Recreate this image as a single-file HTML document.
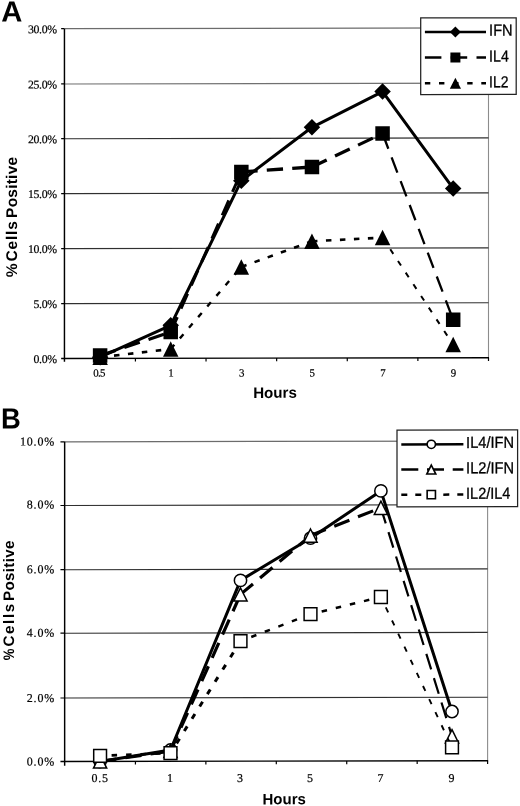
<!DOCTYPE html>
<html lang="en"><head><meta charset="utf-8"><title>Figure</title>
<style>html,body{margin:0;padding:0;background:#fff}svg{display:block}</style></head><body>
<svg width="520" height="806" viewBox="0 0 520 806">
<rect width="520" height="806" fill="#fff"/>
<g transform="matrix(1 -0.0018 0 1 0 0.47)">
<text x="1.2" y="21.05" font-family='"Liberation Sans", Arial, Helvetica, sans-serif' font-weight="bold" font-size="29.2" fill="#000">A</text>
<text x="1.0" y="428.15" font-family='"Liberation Sans", Arial, Helvetica, sans-serif' font-weight="bold" font-size="29.2" fill="#000" textLength="19.8" lengthAdjust="spacingAndGlyphs">B</text>
<line x1="64.45" y1="28.35" x2="488.5" y2="28.35" stroke="#6c6c6c" stroke-width="1.2"/>
<line x1="488.5" y1="28.35" x2="488.5" y2="358.15" stroke="#8c8c8c" stroke-width="1.1"/>
<line x1="64.45" y1="303.2" x2="488.5" y2="303.2" stroke="#303030" stroke-width="1.15"/>
<line x1="64.45" y1="248.25" x2="488.5" y2="248.25" stroke="#303030" stroke-width="1.15"/>
<line x1="64.45" y1="193.25" x2="488.5" y2="193.25" stroke="#303030" stroke-width="1.15"/>
<line x1="64.45" y1="138.35" x2="488.5" y2="138.35" stroke="#303030" stroke-width="1.15"/>
<line x1="64.45" y1="83.6" x2="488.5" y2="83.6" stroke="#707070" stroke-width="1.15"/>
<line x1="64.45" y1="28.35" x2="64.45" y2="361.45" stroke="#000" stroke-width="1.45"/>
<line x1="61.15" y1="358.15" x2="489" y2="358.15" stroke="#000" stroke-width="1.3"/>
<text x="56.7" y="362.61" text-anchor="end" font-family='"Liberation Serif", "Times New Roman", Times, serif' font-size="11.8" letter-spacing="-0.35" fill="#000" stroke="#000" stroke-width="0.2">0.0%</text>
<line x1="61.15" y1="303.2" x2="64.45" y2="303.2" stroke="#000" stroke-width="1.2"/>
<text x="56.7" y="307.66" text-anchor="end" font-family='"Liberation Serif", "Times New Roman", Times, serif' font-size="11.8" letter-spacing="-0.35" fill="#000" stroke="#000" stroke-width="0.2">5.0%</text>
<line x1="61.15" y1="248.25" x2="64.45" y2="248.25" stroke="#000" stroke-width="1.2"/>
<text x="56.7" y="252.71" text-anchor="end" font-family='"Liberation Serif", "Times New Roman", Times, serif' font-size="11.8" letter-spacing="-0.35" fill="#000" stroke="#000" stroke-width="0.2">10.0%</text>
<line x1="61.15" y1="193.25" x2="64.45" y2="193.25" stroke="#000" stroke-width="1.2"/>
<text x="56.7" y="197.71" text-anchor="end" font-family='"Liberation Serif", "Times New Roman", Times, serif' font-size="11.8" letter-spacing="-0.35" fill="#000" stroke="#000" stroke-width="0.2">15.0%</text>
<line x1="61.15" y1="138.35" x2="64.45" y2="138.35" stroke="#000" stroke-width="1.2"/>
<text x="56.7" y="142.81" text-anchor="end" font-family='"Liberation Serif", "Times New Roman", Times, serif' font-size="11.8" letter-spacing="-0.35" fill="#000" stroke="#000" stroke-width="0.2">20.0%</text>
<line x1="61.15" y1="83.6" x2="64.45" y2="83.6" stroke="#000" stroke-width="1.2"/>
<text x="56.7" y="88.06" text-anchor="end" font-family='"Liberation Serif", "Times New Roman", Times, serif' font-size="11.8" letter-spacing="-0.35" fill="#000" stroke="#000" stroke-width="0.2">25.0%</text>
<line x1="61.15" y1="28.35" x2="64.45" y2="28.35" stroke="#000" stroke-width="1.2"/>
<text x="56.7" y="32.81" text-anchor="end" font-family='"Liberation Serif", "Times New Roman", Times, serif' font-size="11.8" letter-spacing="-0.35" fill="#000" stroke="#000" stroke-width="0.2">30.0%</text>
<line x1="135.42" y1="358.15" x2="135.42" y2="361.35" stroke="#000" stroke-width="1.2"/>
<line x1="206.03" y1="358.15" x2="206.03" y2="361.35" stroke="#000" stroke-width="1.2"/>
<line x1="276.65" y1="358.15" x2="276.65" y2="361.35" stroke="#000" stroke-width="1.2"/>
<line x1="347.27" y1="358.15" x2="347.27" y2="361.35" stroke="#000" stroke-width="1.2"/>
<line x1="417.88" y1="358.15" x2="417.88" y2="361.35" stroke="#000" stroke-width="1.2"/>
<line x1="488.5" y1="358.15" x2="488.5" y2="361.35" stroke="#000" stroke-width="1.2"/>
<text x="98.91" y="376.21" text-anchor="middle" font-family='"Liberation Serif", "Times New Roman", Times, serif' font-size="10.9" letter-spacing="-0.7" fill="#000" stroke="#000" stroke-width="0.2">0.5</text>
<text x="170.72" y="376.34" text-anchor="middle" font-family='"Liberation Serif", "Times New Roman", Times, serif' font-size="10.9" letter-spacing="-0.7" fill="#000" stroke="#000" stroke-width="0.2">1</text>
<text x="241.34" y="376.47" text-anchor="middle" font-family='"Liberation Serif", "Times New Roman", Times, serif' font-size="10.9" letter-spacing="-0.7" fill="#000" stroke="#000" stroke-width="0.2">3</text>
<text x="311.96" y="376.59" text-anchor="middle" font-family='"Liberation Serif", "Times New Roman", Times, serif' font-size="10.9" letter-spacing="-0.7" fill="#000" stroke="#000" stroke-width="0.2">5</text>
<text x="382.57" y="376.72" text-anchor="middle" font-family='"Liberation Serif", "Times New Roman", Times, serif' font-size="10.9" letter-spacing="-0.7" fill="#000" stroke="#000" stroke-width="0.2">7</text>
<text x="453.19" y="376.85" text-anchor="middle" font-family='"Liberation Serif", "Times New Roman", Times, serif' font-size="10.9" letter-spacing="-0.7" fill="#000" stroke="#000" stroke-width="0.2">9</text>
<path d="M100.11 356.91 L170.72 325.14 L241.34 180.67 L311.96 127.39 L382.57 91.82 L453.19 188.75" fill="none" stroke="#000" stroke-width="3" stroke-linejoin="round"/>
<path d="M100.11 348.66 L108.36 356.91 L100.11 365.16 L91.86 356.91Z" fill="#000"/>
<path d="M170.72 316.89 L178.97 325.14 L170.72 333.39 L162.47 325.14Z" fill="#000"/>
<path d="M241.34 172.42 L249.59 180.67 L241.34 188.92 L233.09 180.67Z" fill="#000"/>
<path d="M311.96 119.14 L320.21 127.39 L311.96 135.64 L303.71 127.39Z" fill="#000"/>
<path d="M382.57 83.57 L390.82 91.82 L382.57 100.07 L374.32 91.82Z" fill="#000"/>
<path d="M453.19 180.5 L461.44 188.75 L453.19 197 L444.94 188.75Z" fill="#000"/>
<line x1="100.11" y1="355.31" x2="170.72" y2="331.84" stroke="#000" stroke-width="3.2" stroke-dasharray="16.3 9.2" stroke-dashoffset="0"/>
<line x1="170.72" y1="331.84" x2="241.34" y2="171.87" stroke="#000" stroke-width="3" stroke-dasharray="16.3 9.2" stroke-dashoffset="0"/>
<line x1="241.34" y1="171.87" x2="311.96" y2="167.09" stroke="#000" stroke-width="3.3" stroke-dasharray="16.3 9.2" stroke-dashoffset="0"/>
<line x1="311.96" y1="167.09" x2="382.57" y2="133.72" stroke="#000" stroke-width="3.3" stroke-dasharray="16.3 9.2" stroke-dashoffset="0"/>
<line x1="382.57" y1="133.72" x2="453.19" y2="320.15" stroke="#000" stroke-width="2.3" stroke-dasharray="16.3 9.2" stroke-dashoffset="0"/>
<rect x="92.86" y="348.06" width="14.5" height="14.5" fill="#000"/>
<rect x="163.47" y="324.59" width="14.5" height="14.5" fill="#000"/>
<rect x="234.09" y="164.62" width="14.5" height="14.5" fill="#000"/>
<rect x="304.71" y="159.84" width="14.5" height="14.5" fill="#000"/>
<rect x="375.32" y="126.47" width="14.5" height="14.5" fill="#000"/>
<rect x="445.94" y="312.9" width="14.5" height="14.5" fill="#000"/>
<line x1="100.11" y1="356.91" x2="170.72" y2="348.84" stroke="#000" stroke-width="2.6" stroke-dasharray="5.5 8.5" stroke-dashoffset="0"/>
<line x1="170.72" y1="348.84" x2="241.34" y2="266.87" stroke="#000" stroke-width="2.4" stroke-dasharray="5.5 8.5" stroke-dashoffset="0"/>
<line x1="241.34" y1="266.87" x2="311.96" y2="241.39" stroke="#000" stroke-width="2.6" stroke-dasharray="5.5 8.5" stroke-dashoffset="0"/>
<line x1="311.96" y1="241.39" x2="382.57" y2="237.82" stroke="#000" stroke-width="2.6" stroke-dasharray="5.5 8.5" stroke-dashoffset="0"/>
<line x1="382.57" y1="237.82" x2="453.19" y2="344.95" stroke="#000" stroke-width="2" stroke-dasharray="5.5 8.5" stroke-dashoffset="0"/>
<path d="M100.11 349.16 L107.86 364.66 L92.36 364.66Z" fill="#000"/>
<path d="M170.72 341.09 L178.47 356.59 L162.97 356.59Z" fill="#000"/>
<path d="M241.34 259.12 L249.09 274.62 L233.59 274.62Z" fill="#000"/>
<path d="M311.96 233.64 L319.71 249.14 L304.21 249.14Z" fill="#000"/>
<path d="M382.57 230.07 L390.32 245.57 L374.82 245.57Z" fill="#000"/>
<path d="M453.19 337.2 L460.94 352.7 L445.44 352.7Z" fill="#000"/>
<rect x="420.7" y="18.28" width="95.5" height="76.6" fill="#fff" stroke="#222" stroke-width="1.25"/>
<line x1="424.9" y1="32.28" x2="486" y2="32.28" stroke="#000" stroke-width="2.5"/>
<path d="M455.4 26.78 L460.9 32.28 L455.4 37.78 L449.9 32.28Z" fill="#000"/>
<text x="489.1" y="36.03" font-family='"Liberation Sans", Arial, Helvetica, sans-serif' font-size="15.8" fill="#000" stroke="#000" stroke-width="0.3" textLength="23.5" lengthAdjust="spacingAndGlyphs">IFN</text>
<line x1="424.9" y1="57.78" x2="486" y2="57.78" stroke="#000" stroke-width="2.5" stroke-dasharray="16.5 9.3"/>
<rect x="450.4" y="52.78" width="10" height="10" fill="#000"/>
<text x="489.1" y="61.88" font-family='"Liberation Sans", Arial, Helvetica, sans-serif' font-size="15.8" fill="#000" stroke="#000" stroke-width="0.3" textLength="19.7" lengthAdjust="spacingAndGlyphs">IL4</text>
<line x1="424.9" y1="83.58" x2="486" y2="83.58" stroke="#000" stroke-width="2.5" stroke-dasharray="5.4 8.7"/>
<path d="M455.4 77.98 L461 89.18 L449.8 89.18Z" fill="#000"/>
<text x="489.1" y="87.68" font-family='"Liberation Sans", Arial, Helvetica, sans-serif' font-size="15.8" fill="#000" stroke="#000" stroke-width="0.3" textLength="19.3" lengthAdjust="spacingAndGlyphs">IL2</text>
<text x="253.2" y="397.9" font-family='"Liberation Sans", Arial, Helvetica, sans-serif' font-weight="bold" font-size="15.3" fill="#000" textLength="43.7" lengthAdjust="spacingAndGlyphs">Hours</text>
<text transform="translate(17.2 276.76) rotate(-90)" font-family='"Liberation Sans", Arial, Helvetica, sans-serif' font-weight="bold" font-size="15.5" fill="#000" textLength="13.9" lengthAdjust="spacingAndGlyphs">%</text>
<text transform="translate(17.2 260.96) rotate(-90)" font-family='"Liberation Sans", Arial, Helvetica, sans-serif' font-weight="bold" font-size="15.5" fill="#000" textLength="40.2" lengthAdjust="spacing">Cells</text>
<text transform="translate(17.2 217.46) rotate(-90)" font-family='"Liberation Sans", Arial, Helvetica, sans-serif' font-weight="bold" font-size="15.5" fill="#000" textLength="61" lengthAdjust="spacing">Positive</text>
<line x1="64.65" y1="441.45" x2="487.6" y2="441.45" stroke="#6c6c6c" stroke-width="1.2"/>
<line x1="487.6" y1="441.45" x2="487.6" y2="761.15" stroke="#8c8c8c" stroke-width="1.1"/>
<line x1="64.65" y1="697.65" x2="487.6" y2="697.65" stroke="#303030" stroke-width="1.15"/>
<line x1="64.65" y1="632.85" x2="487.6" y2="632.85" stroke="#303030" stroke-width="1.15"/>
<line x1="64.65" y1="569.35" x2="487.6" y2="569.35" stroke="#303030" stroke-width="1.15"/>
<line x1="64.65" y1="505.15" x2="487.6" y2="505.15" stroke="#303030" stroke-width="1.15"/>
<line x1="64.65" y1="441.45" x2="64.65" y2="765.35" stroke="#000" stroke-width="1.45"/>
<line x1="60.45" y1="761.15" x2="488.1" y2="761.15" stroke="#000" stroke-width="1.3"/>
<text x="55" y="765.01" text-anchor="end" font-family='"Liberation Serif", "Times New Roman", Times, serif' font-size="12" letter-spacing="0.8" fill="#000" stroke="#000" stroke-width="0.2">0.0%</text>
<line x1="60.45" y1="697.65" x2="64.65" y2="697.65" stroke="#000" stroke-width="1.2"/>
<text x="55" y="701.71" text-anchor="end" font-family='"Liberation Serif", "Times New Roman", Times, serif' font-size="12" letter-spacing="0.8" fill="#000" stroke="#000" stroke-width="0.2">2.0%</text>
<line x1="60.45" y1="632.85" x2="64.65" y2="632.85" stroke="#000" stroke-width="1.2"/>
<text x="55" y="636.41" text-anchor="end" font-family='"Liberation Serif", "Times New Roman", Times, serif' font-size="12" letter-spacing="0.8" fill="#000" stroke="#000" stroke-width="0.2">4.0%</text>
<line x1="60.45" y1="569.35" x2="64.65" y2="569.35" stroke="#000" stroke-width="1.2"/>
<text x="55" y="572.81" text-anchor="end" font-family='"Liberation Serif", "Times New Roman", Times, serif' font-size="12" letter-spacing="0.8" fill="#000" stroke="#000" stroke-width="0.2">6.0%</text>
<line x1="60.45" y1="505.15" x2="64.65" y2="505.15" stroke="#000" stroke-width="1.2"/>
<text x="55" y="508.11" text-anchor="end" font-family='"Liberation Serif", "Times New Roman", Times, serif' font-size="12" letter-spacing="0.8" fill="#000" stroke="#000" stroke-width="0.2">8.0%</text>
<line x1="60.45" y1="441.45" x2="64.65" y2="441.45" stroke="#000" stroke-width="1.2"/>
<text x="55" y="445.11" text-anchor="end" font-family='"Liberation Serif", "Times New Roman", Times, serif' font-size="12" letter-spacing="0.8" fill="#000" stroke="#000" stroke-width="0.2">10.0%</text>
<line x1="135.43" y1="761.15" x2="135.43" y2="764.35" stroke="#000" stroke-width="1.2"/>
<line x1="205.87" y1="761.15" x2="205.87" y2="764.35" stroke="#000" stroke-width="1.2"/>
<line x1="276.3" y1="761.15" x2="276.3" y2="764.35" stroke="#000" stroke-width="1.2"/>
<line x1="346.73" y1="761.15" x2="346.73" y2="764.35" stroke="#000" stroke-width="1.2"/>
<line x1="417.17" y1="761.15" x2="417.17" y2="764.35" stroke="#000" stroke-width="1.2"/>
<line x1="487.6" y1="761.15" x2="487.6" y2="764.35" stroke="#000" stroke-width="1.2"/>
<text x="100.1" y="781.61" text-anchor="middle" font-family='"Liberation Serif", "Times New Roman", Times, serif' font-size="12" letter-spacing="0.8" fill="#000" stroke="#000" stroke-width="0.2">0.5</text>
<text x="170.5" y="781.74" text-anchor="middle" font-family='"Liberation Serif", "Times New Roman", Times, serif' font-size="12" letter-spacing="0.8" fill="#000" stroke="#000" stroke-width="0.2">1</text>
<text x="240.5" y="781.86" text-anchor="middle" font-family='"Liberation Serif", "Times New Roman", Times, serif' font-size="12" letter-spacing="0.8" fill="#000" stroke="#000" stroke-width="0.2">3</text>
<text x="310.5" y="781.99" text-anchor="middle" font-family='"Liberation Serif", "Times New Roman", Times, serif' font-size="12" letter-spacing="0.8" fill="#000" stroke="#000" stroke-width="0.2">5</text>
<text x="380.9" y="782.12" text-anchor="middle" font-family='"Liberation Serif", "Times New Roman", Times, serif' font-size="12" letter-spacing="0.8" fill="#000" stroke="#000" stroke-width="0.2">7</text>
<text x="452" y="782.25" text-anchor="middle" font-family='"Liberation Serif", "Times New Roman", Times, serif' font-size="12" letter-spacing="0.8" fill="#000" stroke="#000" stroke-width="0.2">9</text>
<path d="M100.1 761.21 L170.5 749.84 L240.5 580.36 L310.5 538.29 L380.9 491.12 L452 711.85" fill="none" stroke="#000" stroke-width="3" stroke-linejoin="round"/>
<circle cx="100.1" cy="761.21" r="6.15" fill="#fff" stroke="#000" stroke-width="1.5"/>
<circle cx="170.5" cy="749.84" r="6.15" fill="#fff" stroke="#000" stroke-width="1.5"/>
<circle cx="240.5" cy="580.36" r="6.15" fill="#fff" stroke="#000" stroke-width="1.5"/>
<circle cx="310.5" cy="538.29" r="6.15" fill="#fff" stroke="#000" stroke-width="1.5"/>
<circle cx="380.9" cy="491.12" r="6.15" fill="#fff" stroke="#000" stroke-width="1.5"/>
<circle cx="452" cy="711.85" r="6.15" fill="#fff" stroke="#000" stroke-width="1.5"/>
<line x1="100.1" y1="761.21" x2="170.5" y2="750.84" stroke="#000" stroke-width="3.2" stroke-dasharray="16.3 9.2" stroke-dashoffset="0"/>
<line x1="170.5" y1="750.84" x2="240.5" y2="594.36" stroke="#000" stroke-width="3.2" stroke-dasharray="16.3 9.2" stroke-dashoffset="0"/>
<line x1="240.5" y1="594.36" x2="310.5" y2="535.69" stroke="#000" stroke-width="3.2" stroke-dasharray="16.3 9.2" stroke-dashoffset="0"/>
<line x1="310.5" y1="535.69" x2="380.9" y2="508.02" stroke="#000" stroke-width="3.2" stroke-dasharray="16.3 9.2" stroke-dashoffset="0"/>
<line x1="380.9" y1="508.02" x2="452" y2="736.65" stroke="#000" stroke-width="2.2" stroke-dasharray="16.3 9.2" stroke-dashoffset="0"/>
<path d="M100.1 754.61 L106.7 767.81 L93.5 767.81Z" fill="#fff" stroke="#000" stroke-width="1.5"/>
<path d="M170.5 744.24 L177.1 757.44 L163.9 757.44Z" fill="#fff" stroke="#000" stroke-width="1.5"/>
<path d="M240.5 587.76 L247.1 600.96 L233.9 600.96Z" fill="#fff" stroke="#000" stroke-width="1.5"/>
<path d="M310.5 529.09 L317.1 542.29 L303.9 542.29Z" fill="#fff" stroke="#000" stroke-width="1.5"/>
<path d="M380.9 501.42 L387.5 514.62 L374.3 514.62Z" fill="#fff" stroke="#000" stroke-width="1.5"/>
<path d="M452 730.05 L458.6 743.25 L445.4 743.25Z" fill="#fff" stroke="#000" stroke-width="1.5"/>
<line x1="100.1" y1="755.51" x2="170.5" y2="752.94" stroke="#000" stroke-width="2.6" stroke-dasharray="5.5 9" stroke-dashoffset="3"/>
<line x1="170.5" y1="752.94" x2="240.5" y2="641.06" stroke="#000" stroke-width="3" stroke-dasharray="5.5 9" stroke-dashoffset="3"/>
<line x1="240.5" y1="641.06" x2="310.5" y2="614.29" stroke="#000" stroke-width="2.5" stroke-dasharray="5.5 9" stroke-dashoffset="3"/>
<line x1="310.5" y1="614.29" x2="380.9" y2="597.22" stroke="#000" stroke-width="2.5" stroke-dasharray="5.5 9" stroke-dashoffset="3"/>
<line x1="380.9" y1="597.22" x2="452" y2="747.65" stroke="#000" stroke-width="1.9" stroke-dasharray="5.5 9" stroke-dashoffset="3"/>
<rect x="93.7" y="749.11" width="12.8" height="12.8" fill="#fff" stroke="#000" stroke-width="1.5"/>
<rect x="164.1" y="746.54" width="12.8" height="12.8" fill="#fff" stroke="#000" stroke-width="1.5"/>
<rect x="234.1" y="634.66" width="12.8" height="12.8" fill="#fff" stroke="#000" stroke-width="1.5"/>
<rect x="304.1" y="607.89" width="12.8" height="12.8" fill="#fff" stroke="#000" stroke-width="1.5"/>
<rect x="374.5" y="590.82" width="12.8" height="12.8" fill="#fff" stroke="#000" stroke-width="1.5"/>
<rect x="445.6" y="741.25" width="12.8" height="12.8" fill="#fff" stroke="#000" stroke-width="1.5"/>
<rect x="397" y="430.36" width="120.6" height="76.8" fill="#fff" stroke="#222" stroke-width="1.25"/>
<line x1="401.3" y1="444.66" x2="463.4" y2="444.66" stroke="#000" stroke-width="2.5"/>
<circle cx="431.3" cy="444.66" r="4.15" fill="#fff" stroke="#000" stroke-width="1.6"/>
<text x="466.1" y="448.26" font-family='"Liberation Sans", Arial, Helvetica, sans-serif' font-size="15.9" fill="#000" stroke="#000" stroke-width="0.3" textLength="47.9" lengthAdjust="spacingAndGlyphs">IL4/IFN</text>
<line x1="401.3" y1="469.86" x2="463.4" y2="469.86" stroke="#000" stroke-width="2.5" stroke-dasharray="17 8.7"/>
<path d="M431.3 465.36 L435.8 474.36 L426.8 474.36Z" fill="#fff" stroke="#000" stroke-width="1.6"/>
<text x="466.1" y="473.66" font-family='"Liberation Sans", Arial, Helvetica, sans-serif' font-size="15.9" fill="#000" stroke="#000" stroke-width="0.3" textLength="47.9" lengthAdjust="spacingAndGlyphs">IL2/IFN</text>
<line x1="401.3" y1="494.96" x2="463.4" y2="494.96" stroke="#000" stroke-width="2.5" stroke-dasharray="6 8"/>
<rect x="427.15" y="490.81" width="8.3" height="8.3" fill="#fff" stroke="#000" stroke-width="1.6"/>
<text x="466.1" y="499.06" font-family='"Liberation Sans", Arial, Helvetica, sans-serif' font-size="15.9" fill="#000" stroke="#000" stroke-width="0.3" textLength="44.3" lengthAdjust="spacingAndGlyphs">IL2/IL4</text>
<text x="262.5" y="804.4" font-family='"Liberation Sans", Arial, Helvetica, sans-serif' font-weight="bold" font-size="15.3" fill="#000" textLength="43.3" lengthAdjust="spacingAndGlyphs">Hours</text>
<text transform="translate(13.6 659.76) rotate(-90)" font-family='"Liberation Sans", Arial, Helvetica, sans-serif' font-weight="bold" font-size="15.2" fill="#000" textLength="11.7" lengthAdjust="spacingAndGlyphs">%</text>
<text transform="translate(13.6 646.16) rotate(-90)" font-family='"Liberation Sans", Arial, Helvetica, sans-serif' font-weight="bold" font-size="15.2" fill="#000" textLength="42.9" lengthAdjust="spacing">Cells</text>
<text transform="translate(13.6 600.46) rotate(-90)" font-family='"Liberation Sans", Arial, Helvetica, sans-serif' font-weight="bold" font-size="15.2" fill="#000" textLength="60.3" lengthAdjust="spacing">Positive</text>
</g></svg></body></html>
